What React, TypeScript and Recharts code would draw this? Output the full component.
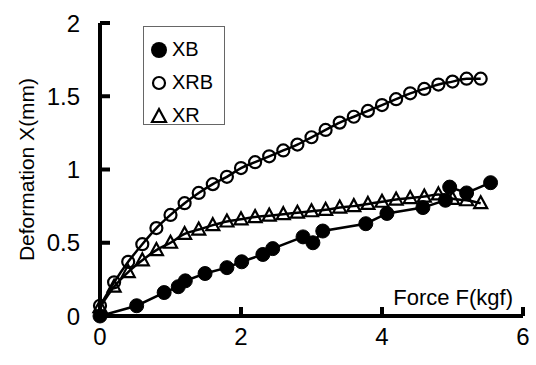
import React from 'react'
import { Legend, Line, LineChart, ReferenceLine, XAxis, YAxis } from 'recharts'

// force (kgf) / deformation (mm)
const xbForce = [0, 0.52, 0.91, 1.11, 1.21, 1.49, 1.8, 2.01, 2.31, 2.45, 2.88, 3.02, 3.16, 3.77, 4.07, 4.58, 4.9, 4.96, 5.2, 5.54]
const xbDeformation = [0, 0.07, 0.16, 0.2, 0.24, 0.29, 0.33, 0.37, 0.42, 0.46, 0.54, 0.5, 0.58, 0.63, 0.7, 0.74, 0.79, 0.88, 0.84, 0.91]

const xrbForce = [0, 0.2, 0.4, 0.6, 0.8, 1.0, 1.2, 1.4, 1.6, 1.8, 2.0, 2.2, 2.4, 2.6, 2.8, 3.0, 3.2, 3.4, 3.6, 3.8, 4.0, 4.2, 4.4, 4.6, 4.8, 5.0, 5.2, 5.4]
const xrbDeformation = [0.07, 0.23, 0.37, 0.49, 0.6, 0.69, 0.77, 0.84, 0.9, 0.95, 1.01, 1.05, 1.09, 1.13, 1.17, 1.22, 1.27, 1.32, 1.36, 1.4, 1.44, 1.48, 1.52, 1.55, 1.58, 1.6, 1.62, 1.62]

const xrForce = [0, 0.2, 0.4, 0.6, 0.8, 1.0, 1.2, 1.4, 1.6, 1.8, 2.0, 2.2, 2.4, 2.6, 2.8, 3.0, 3.2, 3.4, 3.6, 3.8, 4.0, 4.2, 4.4, 4.6, 4.8, 5.0, 5.2, 5.4]
const xrDeformation = [0.06, 0.2, 0.3, 0.38, 0.45, 0.5, 0.56, 0.59, 0.62, 0.645, 0.66, 0.675, 0.685, 0.695, 0.705, 0.715, 0.725, 0.74, 0.75, 0.765, 0.78, 0.795, 0.805, 0.815, 0.83, 0.8, 0.79, 0.77]

const xTicks = [0, 2, 4, 6]
const yTicks = [0, 0.5, 1, 1.5, 2]
const seriesNames = ['XB', 'XRB', 'XR']

const toRows = (force: number[], deformation: number[]) =>
  force.map((f, i) => ({ f, d: deformation[i] }))

const xbData = toRows(xbForce, xbDeformation)
const xrbData = toRows(xrbForce, xrbDeformation)
const xrData = toRows(xrForce, xrDeformation)

const font = '"Liberation Sans", Arial, sans-serif'

// ticks point inwards, so the mark and the label are drawn together
const XTick = (props: any) => {
  const { x, y, payload } = props
  return (
    <g>
      <rect x={x - 2} y={y - 9} width={4} height={9} fill="#000" />
      <text x={x} y={y + 29} textAnchor="middle" fill="#000" fontSize={24} fontFamily={font}>
        {payload.value}
      </text>
    </g>
  )
}

const YTick = (props: any) => {
  const { x, y, payload } = props
  return (
    <g>
      {payload.value !== 0 && <rect x={x} y={y - 2} width={10} height={4} fill="#000" />}
      <text x={x - 20} y={y + 8.5} textAnchor="end" fill="#000" fontSize={24} fontFamily={font}>
        {payload.value}
      </text>
    </g>
  )
}

const Triangle = (props: any) => {
  const { cx, cy, index } = props
  if (cx == null || cy == null) return <g key={`xr-${index}`} />
  return (
    <path
      key={`xr-${index}`}
      d={`M${cx},${cy - 7} L${cx + 6.5},${cy + 5} L${cx - 6.5},${cy + 5} Z`}
      fill="none"
      stroke="#000"
      strokeWidth={2.2}
    />
  )
}

const LegendBox = () => (
  <div
    style={{
      width: 82,
      height: 99,
      border: '1px solid #666',
      background: '#fff',
      fontFamily: font,
      fontSize: 20,
      color: '#000',
      boxSizing: 'border-box',
      paddingTop: 6,
    }}
  >
    {seriesNames.map((name, i) => (
      <div key={name} style={{ display: 'flex', alignItems: 'center', height: 33 }}>
        <svg width={26} height={20} style={{ marginLeft: 4 }}>
          {i === 0 && <circle cx={11} cy={10} r={8} fill="#000" />}
          {i === 1 && <circle cx={11} cy={10} r={6} fill="none" stroke="#000" strokeWidth={2.2} />}
          {i === 2 && <path d="M11,3 L18,16 L4,16 Z" fill="none" stroke="#000" strokeWidth={2.2} />}
        </svg>
        <span style={{ marginLeft: -2 }}>{name}</span>
      </div>
    ))}
  </div>
)

export default function App() {
  return (
    <div style={{ position: 'absolute', left: 0, top: 0, background: '#fff' }}>
      <LineChart width={536} height={365} margin={{ top: 23, right: 13, bottom: 0, left: 0 }}>
        <XAxis
          dataKey="f"
          type="number"
          domain={[0, 6]}
          ticks={xTicks}
          height={49}
          axisLine={false}
          tickLine={false}
          tickSize={0}
          tickMargin={0}
          tick={<XTick />}
          label={{
            content: (p: any) => {
              const vb = p.viewBox
              return (
                <text
                  x={vb.x + vb.width - 10}
                  y={vb.y - 11}
                  textAnchor="end"
                  fill="#000"
                  fontSize={22}
                  fontFamily={font}
                >
                  Force F(kgf)
                </text>
              )
            },
          }}
        />
        <YAxis
          dataKey="d"
          type="number"
          domain={[0, 2]}
          ticks={yTicks}
          width={100}
          axisLine={false}
          tickLine={false}
          tickSize={0}
          tickMargin={0}
          tick={<YTick />}
          label={{
            value: 'Deformation X(mm)',
            angle: -90,
            position: 'insideLeft',
            offset: 27,
            style: { textAnchor: 'middle', fill: '#000', fontSize: 21, fontFamily: font },
          }}
        />
        <ReferenceLine y={0} stroke="#000" strokeWidth={4} />
        <ReferenceLine x={0} stroke="#000" strokeWidth={4} />
        <Legend
          layout="vertical"
          align="center"
          verticalAlign="middle"
          content={<LegendBox />}
          wrapperStyle={{ left: 143, top: 26, width: 82, height: 99 }}
        />
        <Line
          data={xbData}
          dataKey="d"
          name="XB"
          type="linear"
          stroke="#000"
          strokeWidth={2.5}
          dot={{ r: 7, fill: '#000', stroke: '#000', strokeWidth: 1 }}
          activeDot={false}
          isAnimationActive={false}
        />
        <Line
          data={xrbData}
          dataKey="d"
          name="XRB"
          type="monotone"
          stroke="#000"
          strokeWidth={2.5}
          dot={{ r: 6, fill: 'none', stroke: '#000', strokeWidth: 2.2 }}
          activeDot={false}
          isAnimationActive={false}
        />
        <Line
          data={xrData}
          dataKey="d"
          name="XR"
          type="monotone"
          stroke="#000"
          strokeWidth={2.5}
          dot={Triangle}
          activeDot={false}
          isAnimationActive={false}
        />
      </LineChart>
    </div>
  )
}
